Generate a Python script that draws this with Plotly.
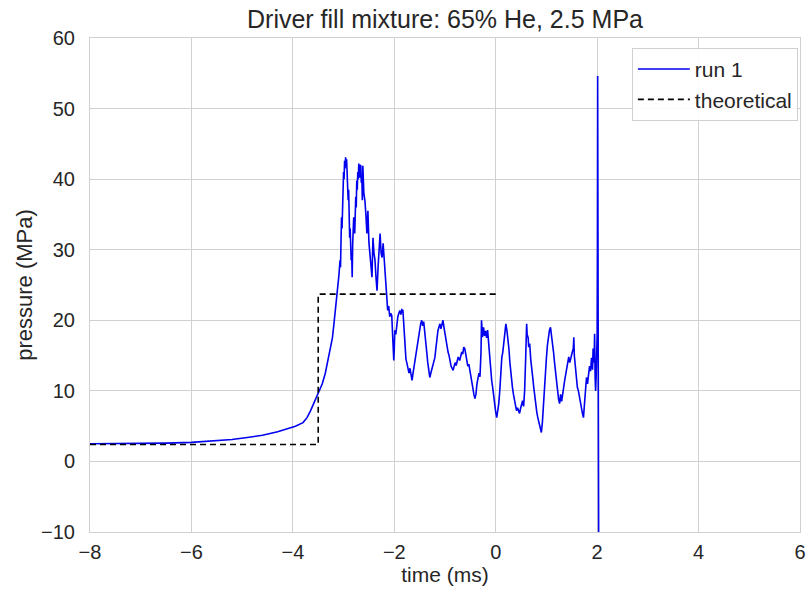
import plotly.graph_objects as go

# run 1 pressure trace (time in ms, pressure in MPa)
run_time = [
    -8.0, -7.0, -6.5, -6.0, -5.5, -5.2, -4.9, -4.6, -4.3, -4.1, -3.95, -3.8,
    -3.72, -3.65, -3.58, -3.5, -3.42, -3.36, -3.30, -3.26, -3.22, -3.19, -3.16,
    -3.13, -3.11, -3.09, -3.07, -3.06, -3.05, -3.04, -3.03, -3.02, -3.01, -3.00,
    -2.99, -2.98, -2.97, -2.96, -2.95, -2.94, -2.93, -2.92, -2.91, -2.90, -2.89,
    -2.88, -2.87, -2.86, -2.85, -2.84, -2.83, -2.82, -2.81, -2.80, -2.79, -2.78,
    -2.77, -2.76, -2.75, -2.74, -2.73, -2.72, -2.71, -2.70, -2.69, -2.68, -2.67,
    -2.66, -2.65, -2.64, -2.63, -2.62, -2.60, -2.58, -2.56, -2.54, -2.53, -2.52,
    -2.50, -2.48, -2.46, -2.44, -2.43, -2.42, -2.40, -2.38, -2.36, -2.34, -2.32,
    -2.30, -2.28, -2.26, -2.24, -2.22, -2.20, -2.19, -2.17, -2.15, -2.13, -2.11,
    -2.09, -2.07, -2.05, -2.03, -2.02, -2.01, -2.00, -1.99, -1.97, -1.95, -1.93,
    -1.91, -1.89, -1.87, -1.85, -1.83, -1.81, -1.79, -1.77, -1.75, -1.73, -1.71,
    -1.69, -1.67, -1.65, -1.63, -1.61, -1.59, -1.56, -1.54, -1.52, -1.50, -1.48,
    -1.46, -1.44, -1.42, -1.40, -1.38, -1.36, -1.34, -1.32, -1.30, -1.28, -1.26,
    -1.24, -1.22, -1.20, -1.18, -1.16, -1.14, -1.12, -1.10, -1.08, -1.06, -1.04,
    -1.02, -1.00, -0.98, -0.96, -0.94, -0.92, -0.90, -0.88, -0.86, -0.84, -0.82,
    -0.80, -0.78, -0.76, -0.74, -0.71, -0.69, -0.67, -0.65, -0.63, -0.61, -0.59,
    -0.57, -0.55, -0.53, -0.51, -0.49, -0.47, -0.45, -0.43, -0.41, -0.39, -0.37,
    -0.35, -0.33, -0.31, -0.29, -0.28, -0.27, -0.26, -0.24, -0.22, -0.20, -0.18,
    -0.16, -0.14, -0.12, -0.10, -0.08, -0.06, -0.04, -0.02, 0.00, 0.02, 0.04,
    0.06, 0.08, 0.10, 0.12, 0.14, 0.16, 0.18, 0.20, 0.22, 0.24, 0.26, 0.28,
    0.31, 0.33, 0.35, 0.37, 0.39, 0.41, 0.43, 0.45, 0.47, 0.49, 0.51, 0.53,
    0.55, 0.57, 0.59, 0.61, 0.62, 0.64, 0.65, 0.67, 0.69, 0.71, 0.73, 0.75,
    0.77, 0.79, 0.81, 0.83, 0.85, 0.87, 0.89, 0.90, 0.92, 0.94, 0.96, 0.98,
    1.00, 1.02, 1.04, 1.06, 1.08, 1.10, 1.12, 1.14, 1.16, 1.18, 1.20, 1.22,
    1.24, 1.26, 1.28, 1.30, 1.32, 1.34, 1.36, 1.38, 1.40, 1.42, 1.44, 1.46,
    1.49, 1.51, 1.53, 1.54, 1.55, 1.57, 1.59, 1.61, 1.63, 1.65, 1.67, 1.69,
    1.71, 1.73, 1.75, 1.77, 1.79, 1.81, 1.83, 1.85, 1.87, 1.89, 1.91, 1.92,
    1.94, 1.95, 1.96, 1.97, 1.98, 1.99, 2.00, 2.005, 2.01, 2.02, 2.03,
]
run_pressure = [
    2.5, 2.5, 2.6, 2.7, 2.9, 3.1, 3.4, 3.7, 4.2, 4.7, 5.0, 5.5,
    6.2, 7.2, 8.4, 9.6, 11.0, 12.5, 14.5, 16.2, 17.5, 19.5, 21.4,
    23.5, 24.5, 26.5, 28.5, 27.5, 31.5, 34.6, 33.0, 38.0, 38.8, 41.0,
    40.0, 42.6, 41.5, 43.1, 42.0, 42.8, 40.2, 41.0, 37.0, 38.5, 34.0,
    31.7, 33.0, 30.0, 28.5, 29.5, 26.1, 30.9, 33.5, 34.6, 33.0, 32.3,
    35.0, 37.5, 36.0, 39.8, 38.5, 41.0, 40.0, 42.2, 41.0, 40.2, 42.0,
    41.9, 39.5, 40.5, 37.0, 41.9, 38.0, 37.0, 35.0, 32.3, 34.0, 35.5,
    31.0, 28.9, 27.5, 26.1, 29.0, 31.7, 29.5, 28.5, 26.0, 24.2, 27.5,
    30.0, 32.3, 29.5, 28.9, 30.9, 28.5, 27.0, 25.0, 23.8, 21.4, 22.0,
    20.5, 21.0, 20.7, 17.5, 15.5, 14.3, 16.0, 18.6, 18.0, 19.5, 20.5,
    21.0, 21.4, 20.8, 21.5, 21.4, 19.0, 16.5, 14.5, 13.9, 13.0, 12.5,
    13.2, 12.0, 11.5, 12.5, 13.5, 14.0, 15.3, 16.5, 17.8, 18.5, 19.5,
    20.0, 19.2, 19.8, 18.6, 17.0, 15.5, 14.0, 13.0, 11.9, 12.5, 13.0,
    13.5, 14.0, 14.7, 16.0, 17.5, 18.5, 19.0, 19.5, 18.8, 19.6, 20.0,
    19.0, 18.0, 17.0, 16.3, 15.5, 15.0, 14.0, 13.5, 13.2, 12.9, 13.5,
    14.0, 13.6, 14.2, 14.8, 14.3, 15.0, 15.5, 15.2, 16.2, 16.0, 15.0,
    14.2, 13.5, 13.8, 12.9, 12.0, 11.0, 10.0, 9.5, 8.9, 9.5, 11.0,
    11.9, 12.5, 12.0, 15.5, 20.0, 18.0, 17.6, 19.0, 17.8, 18.5, 17.5,
    18.6, 16.5, 14.5, 13.0, 11.5, 10.5, 9.0, 7.5, 7.0, 6.2, 7.0,
    8.2, 10.0, 12.5, 14.7, 15.5, 16.8, 18.5, 19.5, 18.6, 17.6, 16.0, 14.0,
    11.5, 10.5, 9.5, 8.5, 7.8, 7.2, 7.6, 7.0, 6.8, 7.5, 8.2, 8.6,
    7.8, 10.0, 14.5, 19.5, 18.0, 17.5, 16.2, 16.7, 14.5, 13.5, 11.9, 10.5,
    9.0, 8.0, 7.0, 6.2, 5.5, 5.0, 4.5, 4.1, 5.5, 8.0, 11.0, 13.0,
    14.7, 16.5, 17.8, 18.6, 19.0, 18.0, 17.1, 15.5, 14.0, 12.5, 11.0, 9.5,
    8.8, 8.2, 9.5, 8.5, 10.0, 10.5, 11.5, 12.3, 12.9, 13.5, 14.8, 14.0,
    14.7, 15.5, 16.0, 17.6, 15.0, 13.0, 11.5, 10.5, 10.0, 9.1, 8.2, 7.5,
    6.8, 6.2, 8.0, 10.0, 11.9, 11.0, 12.5, 13.5, 12.8, 14.7, 13.0, 16.0,
    14.0, 18.1, 12.0, 10.0, 11.9, 15.0, 18.0, 30.0, 54.6, 20.0, -10.5,
]

# theoretical step profile
theory_time = [-8.0, -3.5, -3.5, 0.0]
theory_pressure = [2.4, 2.4, 23.7, 23.7]

font_family = "Liberation Sans, Arial, sans-serif"
grid_color = "#d0d0d0"
text_color = "#262626"

fig = go.Figure()
fig.add_trace(go.Scatter(
    x=run_time, y=run_pressure, mode="lines", name="run 1",
    line=dict(color="#0000ee", width=1.6),
))
fig.add_trace(go.Scatter(
    x=theory_time, y=theory_pressure, mode="lines", name="theoretical",
    line=dict(color="black", width=1.6, dash="6px,4px"),
))

fig.update_layout(
    width=806, height=592,
    margin=dict(l=90, r=6, t=38, b=60),
    paper_bgcolor="white", plot_bgcolor="white",
    font=dict(family=font_family, size=20, color=text_color),
    title=dict(
        text="Driver fill mixture: 65% He, 2.5 MPa",
        x=0.5, xref="paper", xanchor="center",
        y=0.968, yref="container", yanchor="middle",
        font=dict(size=25, color=text_color),
    ),
    legend=dict(
        x=0.997, xanchor="right", y=0.98, yanchor="top",
        bordercolor=grid_color, borderwidth=1, bgcolor="rgba(255,255,255,0.9)",
        font=dict(size=21), itemwidth=52,
        tracegroupgap=2,
    ),
    xaxis=dict(
        range=[-8, 6], dtick=2, tick0=-8, automargin=False,
        showgrid=True, gridcolor=grid_color, gridwidth=1,
        showline=True, linecolor=grid_color, mirror=True,
        zeroline=False, ticks="", ticklabelstandoff=2,
        ticklabeloverflow="allow",
        title=dict(text="time (ms)", standoff=4, font=dict(size=21)),
    ),
    yaxis=dict(
        range=[-10, 60], dtick=10, tick0=-10, automargin=False,
        showgrid=True, gridcolor=grid_color, gridwidth=1,
        showline=True, linecolor=grid_color, mirror=True,
        zeroline=False, ticks="", ticklabelstandoff=10,
        ticklabeloverflow="allow",
        title=dict(text="pressure (MPa)", standoff=2, font=dict(size=22)),
    ),
)

# drop the page's default 8px body margin so the figure fills the window
fig.write_html(
    "out.html",
    config={"displayModeBar": False},
    post_script="document.body.style.margin='0';document.body.style.overflow='hidden';",
)
